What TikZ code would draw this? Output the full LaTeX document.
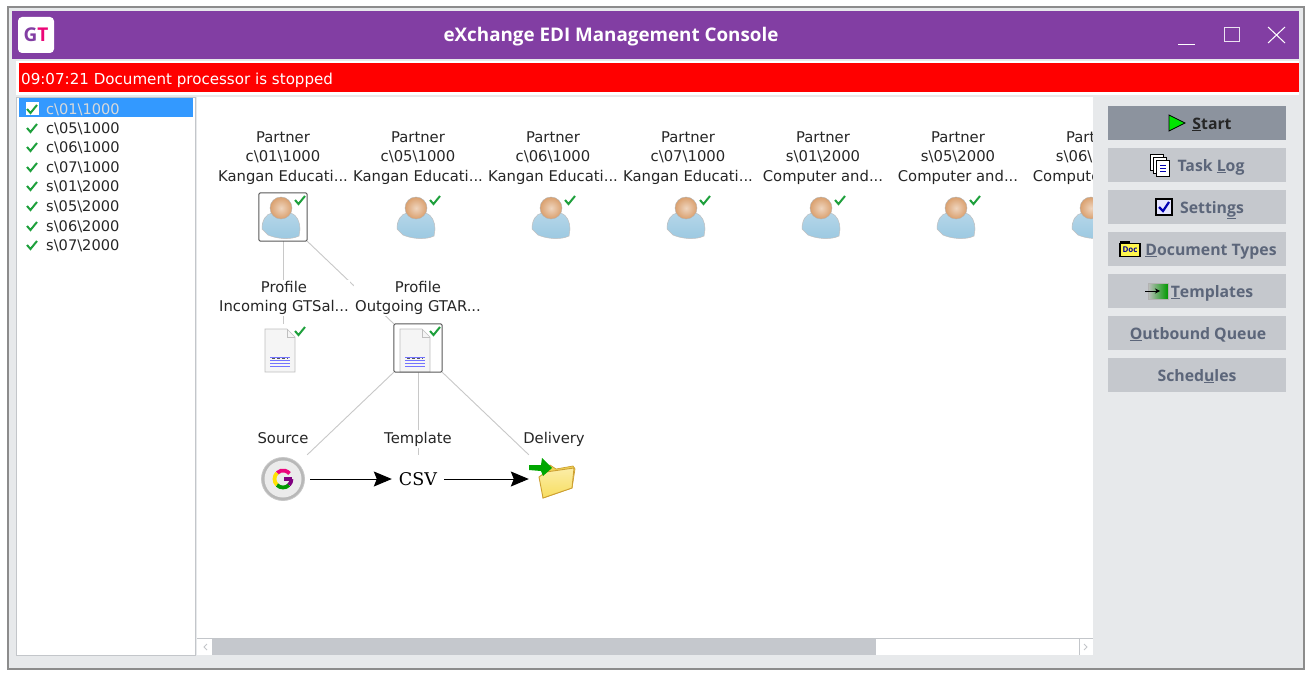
\documentclass[tikz,border=0pt]{standalone}
\usepackage{fontspec}
\setmainfont{DejaVu Sans}
\newfontfamily\headfont{Open Sans}
\newfontfamily\csvfont{DejaVu Serif}
\usetikzlibrary{arrows.meta, positioning, calc}
\definecolor{titlepurple}{RGB}{130, 62, 163}
\definecolor{panelgrey}{RGB}{231, 233, 235}
\definecolor{btngrey}{RGB}{197, 200, 205}
\definecolor{startgrey}{RGB}{140, 147, 158}
\definecolor{btntxt}{RGB}{92, 102, 122}
\definecolor{selblue}{RGB}{51, 153, 255}
\definecolor{okgreen}{RGB}{30, 160, 60}
\definecolor{linkgrey}{RGB}{200, 200, 200}
\definecolor{edgegrey}{RGB}{195, 198, 202}
\definecolor{skinorange}{RGB}{218, 160, 110}
\definecolor{shirtblue}{RGB}{155, 200, 225}
\definecolor{folderyellow}{RGB}{248, 222, 95}
\definecolor{foldergold}{RGB}{205, 160, 50}
\newcommand{\bs}{\textbackslash{}}
\newcommand{\kangan}{Kangan Educati...}
\newcommand{\computer}{Computer and...}
\tikzset{
  iconbox/.style={minimum size=48pt, inner sep=0pt},
  selbox/.style={draw=black!65, line width=1pt, rounded corners=2pt},
  link/.style={linkgrey, line width=0.9pt},
  flow/.style={line width=1pt, -{Stealth[length=18pt, width=15pt, inset=3pt]}},
  caption/.style={fill=white, align=center, font=\fontsize{14.8}{19.5}\selectfont, inner sep=1pt, text=black!85},
  tag/.style={caption, text height=12pt, text depth=4pt},
  listrow/.style={anchor=west, font=\fontsize{14.6}{17}\selectfont, inner sep=0pt, text=black!85},
  btnbox/.style={fill=btngrey, minimum width=178pt, minimum height=34pt, inner sep=0pt},
  btnlabel/.style={font=\fontsize{15.8}{17}\headfont\bfseries, inner sep=0pt, text height=12pt, text depth=0pt, text=btntxt},
  okmark/.pic={\draw[okgreen, line width=2pt] (-5,0) -- (-1.5,4) -- (5,-4);},
  person/.pic={
    \shade[top color=shirtblue!75!white, bottom color=shirtblue, draw=black!25, line width=0.5pt]
      (-21,12) .. controls (-21,3) and (-17,-3) .. (-11,-4)
      -- (8,-4) .. controls (14,-2) and (17,5) .. (17,12)
      -- (16,19) .. controls (8,23) and (-6,22) .. (-15,18) -- cycle;
    \shade[inner color=skinorange!45!white, outer color=skinorange, draw=black!30, line width=0.4pt] (-2,-9) ellipse (11 and 11);
    \pic at (17,-17) {okmark};
  },
  document/.pic={
    \fill[black!4, draw=black!25, line width=0.6pt] (-18,-19) -- (4,-19) -- (12,-11) -- (12,24) -- (-18,24) -- cycle;
    \draw[black!25, line width=0.6pt] (4,-19) -- (4,-11) -- (12,-11);
    \foreach \ly in {9,12,15,18}
      \draw[blue!55!white, line width=0.8pt] (-13,\ly) -- (7,\ly);
    \draw[black!65, line width=1pt, dash pattern=on 3pt off 2pt] (-11,10) -- (5,10);
    \pic at (17,-17) {okmark};
  }
}

\begin{document}
\begin{tikzpicture}[x=1pt, y=-1pt]
  \useasboundingbox (0,0) rectangle (1313,677);

  % Window frame
  \fill[white] (0,0) rectangle (1313,677);
  \draw[black!45, fill=panelgrey, line width=1.2pt] (8,7) rectangle (1304,669);
  \fill[white] (16,61) rectangle (1299,95);
  \fill[white] (197,97) rectangle (1093,655);

  % Title bar
  \fill[titlepurple] (12,11) rectangle (1299,59);
  \node[fill=white, rounded corners=4pt, minimum size=36pt, inner sep=0pt] (logo) at (36,35)
    {\fontsize{19}{19}\headfont\bfseries\textcolor{titlepurple}{G}\textcolor{magenta!80!red}{T}};
  \node[text=white, font=\fontsize{18.8}{20}\headfont\bfseries, inner sep=0pt] (title) at (611,37)
    {eXchange EDI Management Console};
  \draw[white, line width=1pt] (1178,45) -- (1195,45);
  \draw[white!85!titlepurple, line width=1pt] (1224,28) rectangle (1239,42);
  \draw[white, line width=1pt] (1268,27) -- (1285,43) (1285,27) -- (1268,43);

  % Status bar
  \fill[red] (19,63) rectangle (1299,92);
  \node[anchor=west, text=white, font=\fontsize{15.1}{17}\selectfont, inner sep=0pt] (status) at (21,80)
    {09:07:21 Document processor is stopped};

  % Partner list
  \draw[edgegrey, fill=white, line width=1pt] (16,97) rectangle (195,655);
  \fill[selblue] (19,98) rectangle (193,117);
  \fill[white] (26,102) rectangle (39,115);
  \pic at (32,109) {okmark};
  \node[listrow, text=white!85!black] (row1) at (46,110) {c\bs 01\bs 1000};
  \foreach \ry/\rtxt [count=\i from 2] in {128/c\bs 05\bs 1000, 147/c\bs 06\bs 1000, 167/c\bs 07\bs 1000,
      186/s\bs 01\bs 2000, 206/s\bs 05\bs 2000, 226/s\bs 06\bs 2000, 245/s\bs 07\bs 2000} {
    \pic at (32,\ry) {okmark};
    \node[listrow] (row\i) at (46,\ry+1) {\rtxt};
  }

  % Icon anchors
  \foreach \px [count=\i] in {283,418,553,688,823,958,1093}
    \node[iconbox] (partner\i) at (\px,217) {};
  \node[iconbox] (profileA) at (283,348) {};
  \node[iconbox] (profileB) at (418,348) {};
  \node[iconbox] (source) at (283,479) {};
  \node[iconbox, minimum width=52pt] (csv) at (418,479) {\fontsize{17.5}{17.5}\csvfont CSV};
  \node[iconbox] (delivery) at (553,479) {};

  % Tree links
  \draw[link] (partner1.south) -- (profileA.north);
  \draw[link] (partner1.south east) -- (profileB.north west);
  \draw[link] (profileB.south west) -- (source.north east);
  \draw[link] (profileB.south) -- (csv.north);
  \draw[link] (profileB.south east) -- (delivery.north west);
  \draw[flow, shorten <=3pt] (source.east) -- (csv.west);
  \draw[flow] (csv.east) -- (delivery.west);

  % Captions
  \foreach \px/\pcode/\pname [count=\i] in {
      283/c\bs 01\bs 1000/\kangan, 418/c\bs 05\bs 1000/\kangan,
      553/c\bs 06\bs 1000/\kangan, 688/c\bs 07\bs 1000/\kangan,
      823/s\bs 01\bs 2000/\computer, 958/s\bs 05\bs 2000/\computer,
      1093/s\bs 06\bs 2000/\computer} {
    \node[caption] (partnerlbl\i) at (\px,158) {Partner\\\pcode\\\pname};
    \pic at (partner\i) {person};
  }
  \node[caption] (profilelblA) at (284,298) {Profile\\Incoming GTSal...};
  \node[caption] (profilelblB) at (418,298) {Profile\\Outgoing GTAR...};
  \node[tag] (sourcelbl) at (283,439) {Source};
  \node[tag] (templatelbl) at (418,439) {Template};
  \node[tag] (deliverylbl) at (554,439) {Delivery};
  \pic at (profileA) {document};
  \pic at (profileB) {document};
  \draw[selbox] (partner1.south west) rectangle (partner1.north east);
  \draw[selbox] (profileB.south west) rectangle (profileB.north east);

  % Source icon
  \fill[black!28, draw=black!22, line width=0.8pt] (source) circle (21.5);
  \fill[black!8] (source) circle (18.5);
  \begin{scope}[shift={(1,1)}]
    \draw[magenta!85!red, line width=3.8pt] (source.center) ++(-135:8.5) arc (-135:-40:8.5);
    \draw[yellow!85!orange, line width=3.8pt] (source.center) ++(135:8.5) arc (135:225:8.5);
    \draw[green!60!black, line width=3.8pt] (source.center) ++(45:8.5) arc (45:135:8.5);
    \draw[violet, line width=3.8pt] (source.center) ++(45:8.5) arc (45:0:8.5);
    \draw[violet, line width=3.4pt] (source.center) ++(8.5,0) -- ++(-8,0);
  \end{scope}

  % Delivery icon
  \begin{scope}[shift={(delivery.center)}]
    \fill[folderyellow!80!foldergold, draw=foldergold, line width=0.7pt] (-10,-8) -- (-3,-14) -- (3,-10) -- (20,-13)
      -- (22,-10) -- (19,9) -- (-10,19) -- cycle;
    \shade[top color=folderyellow!55!white, bottom color=folderyellow, draw=foldergold, line width=0.9pt]
      (-14,-2) -- (-7,-7) -- (21,-11) -- (19,9) -- (-10,19) -- cycle;
    \fill[green!65!black] (-24,-14) -- (-12,-14) -- (-11,-21) -- (-1,-11) -- (-10,-3) -- (-12,-8) -- (-24,-9) -- cycle;
  \end{scope}

  % Right panel
  \fill[panelgrey] (1093,96) rectangle (1299,665);
  \node[btnbox, fill=startgrey] (btnStart) at (1197,123) {};
  \node[btnlabel, text=black!85] (lblStart) at (1212,123) {\underline{S}tart};
  \foreach \by/\bx/\btxt [count=\i] in {
      165/1211/Task \underline{L}og, 207/1212/Settin\underline{g}s, 249/1211/\underline{D}ocument Types,
      291/1212/\underline{T}emplates, 333/1198/\underline{O}utbound Queue, 375/1197/Sched\underline{u}les} {
    \node[btnbox] (btn\i) at (1197,\by) {};
    \node[btnlabel] (lbl\i) at (\bx,\by) {\btxt};
  }

  % Button icons
  \draw[black, fill=green!90!black, line width=0.8pt] (1169,115) -- (1169,131) -- (1185,123) -- cycle;
  \foreach \dx in {0,3,6}
    \draw[black, fill=white, line width=1pt] (1150+\dx,154+\dx) rectangle (1163+\dx,170+\dx);
  \foreach \ly in {165,168,171}
    \draw[blue!70!black, line width=1pt] (1160,\ly) -- (1166,\ly);
  \draw[black, fill=white!90!blue, line width=1.4pt] (1156,199) rectangle (1172,215);
  \draw[blue!70!black, line width=2.2pt] (1159,207) -- (1163,211) -- (1169,202);
  \fill[black] (1120,241) rectangle (1130,245);
  \node[draw=black, fill=yellow!70!white, line width=1.2pt, inner sep=0pt, minimum width=20pt, minimum height=13pt,
    text=blue!60!black, font=\fontsize{8}{8}\headfont\bfseries] (docicon) at (1130,250) {Doc};
  \shade[left color=black!25, right color=green!60!black, draw=black!30] (1148,283) rectangle (1168,299);
  \draw[black, line width=0.9pt, -{Stealth[length=5pt, width=5pt]}] (1145,291) -- (1160,291);

  % Scroll bar
  \draw[edgegrey, line width=1pt] (197,638.5) -- (1093,638.5);
  \fill[btngrey] (212,639) rectangle (876,655);
  \draw[edgegrey, line width=1pt] (1079,639) -- (1079,655);
  \draw[edgegrey, line width=1pt] (207,644) -- (204,647) -- (207,650);
  \draw[edgegrey, line width=1pt] (1084,644) -- (1087,647) -- (1084,650);
\end{tikzpicture}
\end{document}
